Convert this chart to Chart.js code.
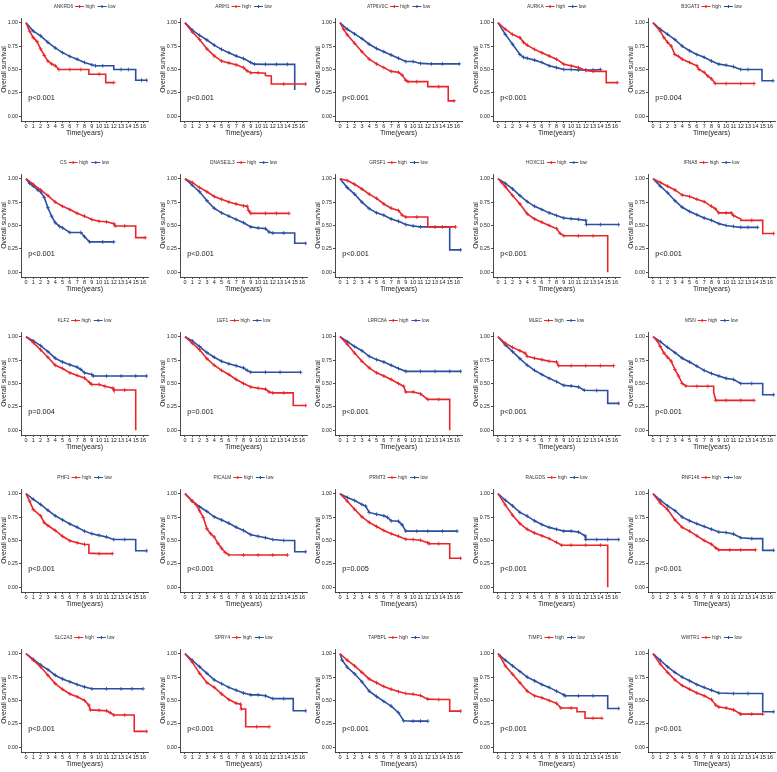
<!DOCTYPE html>
<html>
<head>
<meta charset="utf-8">
<script src="https://cdn.jsdelivr.net/npm/chart.js@4.4.1/dist/chart.umd.min.js"></script>
<style>
  body { margin: 0; background: #fff; }
  #grid { position: relative; width: 777px; height: 772px; overflow: hidden; background: #fff; }
  #grid canvas { position: absolute; }
</style>
</head>
<body>
<div id="grid"></div>
<script>
// --- data ---
const genes = ['ANKRD6', 'ARIH1', 'ATP6V0C', 'AURKA', 'B3GAT3',
    'CS', 'DNASE1L3', 'GRSF1', 'HOXC11', 'IFNA8',
    'KLF2', 'LEF1', 'LRRC8A', 'MLEC', 'MSN',
    'PHF1', 'PICALM', 'PRMT3', 'RALGDS', 'RNF146',
    'SLC2A3', 'SPRY4', 'TAPBPL', 'TIMP1', 'WWTR1'];

const pLabels = ['p<0.001', 'p<0.001', 'p<0.001', 'p<0.001', 'p=0.004',
    'p<0.001', 'p<0.001', 'p<0.001', 'p<0.001', 'p<0.001',
    'p=0.004', 'p=0.001', 'p<0.001', 'p<0.001', 'p<0.001',
    'p<0.001', 'p<0.001', 'p=0.005', 'p<0.001', 'p<0.001',
    'p<0.001', 'p<0.001', 'p<0.001', 'p<0.001', 'p<0.001'];

const groupNames = ['high', 'low'];
const timeTicks = [0, 1, 2, 3, 4, 5, 6, 7, 8, 9, 10, 11, 12, 13, 14, 15, 16];
const survTicks = [0, 0.25, 0.5, 0.75, 1];

// [time, survival] for the "high" group of each gene
const highSurv = [
    [[0,1],[0.5,0.91],[1,0.84],[1.5,0.8],[2,0.72],[2.5,0.65],[3,0.59],[3.5,0.56],[4,0.54],[4.5,0.5],[6,0.5],[7.5,0.5],[8.6,0.5],[8.6,0.45],[10,0.45],[10.9,0.45],[10.9,0.36],[12,0.36]],
    [[0,1],[1,0.9],[2,0.82],[3,0.72],[4,0.645],[5,0.59],[6,0.57],[7,0.55],[8,0.52],[8.5,0.485],[9,0.465],[10,0.465],[11,0.46],[11,0.435],[11.8,0.43],[11.8,0.345],[13.5,0.345],[16.5,0.345]],
    [[0,1],[0.5,0.93],[1,0.87],[2,0.78],[3,0.69],[4,0.61],[5,0.56],[6,0.52],[7,0.48],[8,0.47],[8.5,0.44],[9,0.385],[9.3,0.37],[10.5,0.37],[12,0.37],[12,0.317],[13.5,0.317],[14.8,0.317],[14.8,0.165],[15.6,0.165]],
    [[0,1],[1,0.93],[2,0.875],[3,0.84],[3.5,0.79],[4,0.76],[5,0.715],[6,0.68],[7,0.645],[8,0.61],[9,0.557],[10,0.54],[11,0.52],[12,0.49],[13,0.48],[14.8,0.48],[14.8,0.36],[16.3,0.36]],
    [[0,1],[1,0.91],[1.5,0.84],[2,0.79],[2.5,0.75],[3,0.66],[3.5,0.64],[4,0.61],[5,0.575],[6,0.54],[6.3,0.5],[7,0.47],[7.5,0.43],[8,0.4],[8.5,0.35],[10,0.35],[12,0.35],[13.8,0.35]],

    [[0,1],[1,0.94],[2,0.88],[3,0.82],[4,0.75],[5,0.705],[6,0.67],[7,0.63],[8,0.6],[9,0.565],[10,0.545],[11,0.54],[12,0.52],[12.2,0.495],[13.5,0.495],[15,0.495],[15,0.37],[16.3,0.37]],
    [[0,1],[1,0.96],[2,0.905],[3,0.86],[4,0.81],[5,0.78],[6,0.75],[7,0.73],[8,0.71],[8.5,0.705],[8.7,0.66],[9,0.63],[11,0.63],[12.5,0.63],[14.2,0.63]],
    [[0,1],[1,0.98],[2,0.94],[3,0.89],[4,0.835],[5,0.79],[6,0.73],[7,0.685],[8,0.66],[8.5,0.61],[9,0.59],[10.5,0.59],[12,0.59],[12,0.485],[14,0.485],[15.8,0.485]],
    [[0,1],[0.5,0.96],[1,0.915],[2,0.82],[3,0.73],[4,0.625],[5,0.57],[6,0.535],[7,0.5],[8,0.467],[8.5,0.415],[9,0.39],[11,0.39],[13,0.39],[15,0.39],[15,0]],
    [[0,1],[1,0.96],[2,0.92],[3,0.88],[4,0.825],[5,0.81],[6,0.78],[7,0.755],[8,0.705],[8.5,0.68],[9,0.635],[10,0.635],[10.7,0.635],[11,0.607],[12,0.57],[12,0.555],[13.5,0.555],[15,0.555],[15,0.415],[16.5,0.415]],

    [[0,1],[1,0.937],[2,0.86],[3,0.78],[4,0.695],[5,0.66],[6,0.614],[7,0.586],[8,0.56],[8.7,0.51],[9,0.49],[10,0.49],[10.8,0.47],[11.9,0.45],[12,0.43],[13.5,0.43],[15,0.43],[15,0]],
    [[0,1],[1,0.93],[2,0.86],[3,0.765],[4,0.695],[5,0.64],[6,0.596],[7,0.543],[8,0.5],[9,0.463],[10,0.45],[11,0.44],[11.5,0.41],[12,0.4],[13.5,0.4],[14.8,0.4],[14.8,0.265],[16.5,0.265]],
    [[0,1],[1,0.92],[2,0.825],[3,0.737],[4,0.667],[5,0.614],[6,0.58],[7,0.543],[8,0.5],[8.7,0.47],[9,0.41],[10,0.41],[11,0.39],[12,0.33],[13.5,0.33],[15,0.33],[15,0]],
    [[0,1],[1,0.93],[2,0.886],[3,0.85],[3.7,0.825],[4,0.79],[5,0.77],[6,0.755],[7,0.737],[8,0.73],[8.3,0.69],[10,0.69],[12,0.69],[14,0.69],[15.8,0.69]],
    [[0,1],[0.5,0.965],[1,0.895],[1.5,0.825],[2,0.78],[2.5,0.737],[3,0.65],[3.5,0.58],[4,0.5],[4.5,0.474],[6,0.47],[7.5,0.47],[8.3,0.47],[8.3,0.403],[8.6,0.32],[10,0.32],[12,0.32],[13.8,0.32]],

    [[0,1],[0.5,0.92],[1,0.83],[2,0.764],[2.5,0.69],[3,0.66],[4,0.607],[5,0.545],[6,0.497],[7,0.476],[8,0.458],[8.6,0.458],[8.6,0.365],[10,0.36],[11.8,0.36]],
    [[0,1],[1,0.92],[1.5,0.885],[2,0.816],[2.5,0.747],[3,0.625],[3.5,0.573],[4,0.538],[4.5,0.47],[5,0.417],[5.5,0.372],[6,0.347],[8,0.345],[10,0.345],[12,0.345],[14,0.345]],
    [[0,1],[1,0.92],[2,0.833],[3,0.753],[4,0.694],[5,0.65],[6,0.607],[7,0.573],[8,0.545],[9,0.514],[10,0.51],[11,0.503],[12,0.476],[12.2,0.466],[13.5,0.466],[15,0.466],[15,0.31],[16.5,0.31]],
    [[0,1],[1,0.88],[2,0.77],[3,0.68],[4,0.62],[5,0.58],[6,0.55],[7,0.52],[8,0.48],[8.7,0.45],[10,0.45],[12,0.45],[14,0.45],[15,0.45],[15,0]],
    [[0,1],[1,0.9],[2,0.83],[3,0.72],[4,0.64],[5,0.6],[6,0.55],[7,0.5],[8,0.46],[8.6,0.42],[9,0.4],[10.5,0.4],[12,0.4],[14,0.4]],

    [[0,1],[1,0.93],[2,0.86],[3,0.77],[4,0.68],[5,0.62],[6,0.57],[7,0.54],[8,0.5],[8.6,0.45],[8.8,0.4],[10,0.395],[11,0.39],[11.5,0.37],[12,0.345],[13.5,0.345],[14.8,0.345],[14.8,0.17],[16.5,0.17]],
    [[0,1],[1,0.91],[2,0.79],[3,0.69],[4,0.64],[5,0.57],[6,0.51],[7,0.47],[7.6,0.46],[7.7,0.41],[8.3,0.41],[8.3,0.22],[9.8,0.22],[11.5,0.22]],
    [[0,1],[1,0.93],[2,0.87],[3,0.8],[4,0.73],[5,0.69],[6,0.65],[7,0.62],[8,0.595],[9,0.575],[10,0.567],[11,0.553],[12,0.515],[13.5,0.51],[15,0.51],[15,0.387],[16.5,0.387]],
    [[0,1],[0.3,0.97],[1,0.87],[2,0.78],[3,0.69],[4,0.6],[5,0.55],[6,0.53],[7,0.5],[8,0.47],[8.6,0.42],[10,0.42],[10.8,0.42],[10.8,0.38],[11.9,0.38],[11.9,0.31],[13,0.31],[14.2,0.31]],
    [[0,1],[1,0.89],[2,0.8],[3,0.72],[4,0.66],[5,0.62],[6,0.58],[7,0.55],[8,0.51],[8.6,0.45],[9,0.43],[10,0.42],[11,0.4],[11.9,0.36],[12,0.355],[13.5,0.355],[15,0.355]]
];

// [time, survival] for the "low" group of each gene
const lowSurv = [
    [[0,1],[1,0.91],[2,0.86],[3,0.79],[4,0.73],[5,0.68],[6,0.64],[7,0.61],[8,0.575],[9,0.55],[9.5,0.54],[10.5,0.54],[12,0.54],[12,0.5],[13,0.5],[14,0.5],[15,0.5],[15,0.385],[15.8,0.385],[16.5,0.385]],
    [[0,1],[1,0.92],[2,0.865],[3,0.815],[4,0.76],[5,0.715],[6,0.68],[7,0.645],[8,0.617],[9,0.575],[9.5,0.557],[11,0.555],[12.5,0.555],[14,0.555],[15,0.555],[15,0.28]],
    [[0,1],[1,0.93],[2,0.88],[3,0.83],[4,0.77],[5,0.725],[6,0.69],[7,0.655],[8,0.62],[9,0.585],[10,0.585],[11,0.565],[12.5,0.56],[14,0.56],[16.3,0.56]],
    [[0,1],[1,0.875],[2,0.77],[3,0.66],[3.5,0.63],[4,0.62],[5,0.6],[6,0.575],[7,0.54],[8,0.52],[9,0.5],[10,0.5],[11,0.495],[12,0.495],[13,0.495],[14,0.5]],
    [[0,1],[1,0.93],[2,0.875],[3,0.82],[4,0.75],[5,0.7],[6,0.66],[7,0.63],[8,0.59],[9,0.557],[10,0.546],[11,0.53],[12,0.5],[13,0.5],[14.9,0.5],[14.9,0.38],[16.4,0.38]],

    [[0,1],[0.5,0.95],[1,0.92],[1.6,0.88],[2,0.86],[2.5,0.8],[3,0.69],[3.5,0.6],[4,0.53],[4.6,0.49],[5,0.475],[6,0.425],[7.5,0.425],[8,0.38],[8.7,0.325],[10.5,0.325],[12,0.325]],
    [[0,1],[1,0.93],[2,0.86],[3,0.765],[4,0.684],[5,0.635],[6,0.6],[7,0.565],[8,0.53],[9,0.485],[10,0.474],[11,0.467],[11.5,0.43],[12,0.42],[13.5,0.42],[15,0.42],[15,0.31],[16.5,0.31]],
    [[0,1],[1,0.905],[2,0.835],[3,0.75],[4,0.68],[5,0.635],[6,0.61],[7,0.57],[8,0.545],[9,0.51],[10,0.495],[11,0.485],[13,0.485],[15,0.485],[15,0.24],[16.5,0.24]],
    [[0,1],[1,0.95],[2,0.89],[3,0.82],[4,0.755],[5,0.705],[6,0.67],[7,0.635],[8,0.607],[9,0.58],[10,0.572],[11,0.565],[12,0.555],[12.1,0.51],[14,0.51],[16.5,0.51]],
    [[0,1],[1,0.92],[2,0.85],[3,0.765],[4,0.695],[5,0.65],[6,0.615],[7,0.58],[8,0.555],[9,0.52],[10,0.5],[11,0.49],[12,0.48],[13,0.48],[14.3,0.48]],

    [[0,1],[1,0.955],[2,0.905],[3,0.84],[4,0.77],[5,0.73],[6,0.7],[7,0.675],[7.5,0.65],[8,0.614],[9,0.596],[9.2,0.58],[11,0.58],[13,0.58],[15,0.58],[16.5,0.58]],
    [[0,1],[1,0.955],[2,0.895],[3,0.83],[4,0.78],[5,0.737],[6,0.71],[7,0.69],[8,0.667],[8.5,0.64],[9,0.62],[11,0.62],[13,0.62],[15.8,0.62]],
    [[0,1],[1,0.947],[2,0.895],[3,0.85],[4,0.79],[5,0.755],[6,0.73],[7,0.695],[8,0.66],[9,0.63],[11,0.63],[13,0.63],[15,0.63],[16.5,0.63]],
    [[0,1],[1,0.912],[2,0.84],[3,0.765],[4,0.695],[5,0.64],[6,0.596],[7,0.555],[8,0.52],[9,0.48],[10,0.474],[11,0.463],[11.8,0.428],[13.5,0.425],[15,0.425],[15,0.288],[16.5,0.288]],
    [[0,1],[1,0.947],[2,0.886],[3,0.83],[4,0.77],[5,0.73],[6,0.685],[7,0.64],[8,0.607],[9,0.58],[10,0.555],[11,0.543],[12,0.5],[13.5,0.5],[15,0.5],[15,0.38],[16.5,0.38]],

    [[0,1],[1,0.94],[2,0.885],[3,0.823],[4,0.764],[5,0.72],[6,0.677],[7,0.642],[8,0.6],[9,0.573],[10,0.555],[11,0.538],[12,0.51],[13.5,0.51],[15,0.51],[15,0.39],[16.5,0.39]],
    [[0,1],[1,0.92],[2,0.86],[3,0.81],[4,0.753],[5,0.72],[6,0.684],[7,0.642],[8,0.607],[9,0.562],[10,0.545],[11,0.53],[12,0.51],[13.5,0.5],[15,0.5],[15,0.38],[16.5,0.38]],
    [[0,1],[1,0.96],[2,0.927],[3,0.885],[3.5,0.868],[4,0.8],[5,0.78],[6,0.764],[6.5,0.747],[7,0.71],[8,0.705],[8.5,0.667],[9,0.6],[10.5,0.6],[12,0.6],[14,0.6],[16,0.6]],
    [[0,1],[1,0.93],[2,0.87],[3,0.8],[4,0.76],[5,0.71],[6,0.67],[7,0.64],[8,0.62],[9,0.6],[10,0.6],[11,0.59],[11.9,0.55],[12,0.51],[13.5,0.51],[15,0.51],[16.5,0.51]],
    [[0,1],[1,0.93],[2,0.87],[3,0.82],[4,0.75],[5,0.71],[6,0.68],[7,0.65],[8,0.62],[9,0.59],[10,0.585],[11,0.57],[12,0.53],[13.5,0.52],[15,0.52],[15,0.395],[16.5,0.395]],

    [[0,1],[1,0.94],[2,0.88],[3,0.83],[4,0.77],[5,0.73],[6,0.7],[7,0.67],[8,0.645],[9,0.625],[11,0.625],[13,0.625],[14.5,0.625],[16,0.625]],
    [[0,1],[1,0.93],[2,0.86],[3,0.79],[4,0.72],[5,0.68],[6,0.64],[7,0.61],[8,0.58],[9,0.56],[10,0.56],[11,0.55],[12,0.52],[13.5,0.52],[14.8,0.52],[14.8,0.39],[16.5,0.39]],
    [[0,1],[0.3,0.93],[1,0.855],[2,0.785],[3,0.7],[4,0.6],[5,0.543],[6,0.49],[7,0.44],[8,0.37],[8.7,0.284],[10,0.28],[11,0.28],[12,0.28]],
    [[0,1],[1,0.93],[2,0.87],[3,0.81],[4,0.75],[5,0.71],[6,0.67],[7,0.64],[8,0.6],[9,0.56],[9.2,0.55],[11,0.55],[13,0.55],[15,0.55],[15,0.415],[16.5,0.415]],
    [[0,1],[1,0.93],[2,0.86],[3,0.8],[4,0.75],[5,0.71],[6,0.67],[7,0.64],[8,0.61],[9,0.58],[11,0.575],[13,0.575],[15,0.575],[15,0.38],[16.5,0.38]]
];

// --- look ---
const RED = '#E8262A';
const BLUE = '#2B4FA2';
const INK = '#1a1a1a';
const FONT = '"Liberation Sans", Arial, sans-serif';
const colLeft = [0, 159, 314, 472, 627];
const rowTop = [0, 156, 314, 471, 631];
const CW = 150, CH = 142;

// censor marks everywhere except the start and the two ends of a vertical drop
function censorRadius(c) {
    const d = c.dataset.data, i = c.dataIndex, p = d[i];
    if (!p || i === 0) return 0;
    if ((d[i - 1] && d[i - 1].x === p.x) || (d[i + 1] && d[i + 1].x === p.x)) return 0;
    return 1.9;
}

function drawKey(ctx, x, y, color) {
    ctx.strokeStyle = color;
    ctx.lineWidth = 1.1;
    ctx.beginPath();
    ctx.moveTo(x, y); ctx.lineTo(x + 9, y);
    ctx.moveTo(x + 4.5, y - 1.6); ctx.lineTo(x + 4.5, y + 1.6);
    ctx.stroke();
}

// legend row + p-value text
const kmDecor = {
    id: 'kmDecor',
    afterDraw(chart, args, opts) {
        const { ctx, chartArea, scales } = chart;
        ctx.save();
        ctx.fillStyle = INK;
        ctx.textBaseline = 'middle';
        ctx.textAlign = 'left';
        ctx.font = `7.3px ${FONT}`;
        ctx.fillText(opts.pval, scales.x.getPixelForValue(0.3), scales.y.getPixelForValue(0.2));

        ctx.font = `4.8px ${FONT}`;
        const wGene = ctx.measureText(opts.gene).width;
        const wHigh = ctx.measureText(groupNames[0]).width;
        const wLow = ctx.measureText(groupNames[1]).width;
        const total = wGene + 2 + 9 + 1.5 + wHigh + 3 + 9 + 1.5 + wLow;
        let x = (chartArea.left + chartArea.right) / 2 - total / 2;
        const y = 6.5;
        ctx.fillStyle = '#333';
        ctx.fillText(opts.gene, x, y); x += wGene + 2;
        drawKey(ctx, x, y, RED); x += 10.5;
        ctx.fillText(groupNames[0], x, y); x += wHigh + 3;
        drawKey(ctx, x, y, BLUE); x += 10.5;
        ctx.fillText(groupNames[1], x, y);
        ctx.restore();
    }
};

function makeSet(label, pts, color) {
    return {
        label,
        data: pts.map(([x, y]) => ({ x, y })),
        borderColor: color,
        backgroundColor: color,
        borderWidth: 1.6,
        pointStyle: 'cross',
        pointRadius: censorRadius,
        pointBorderWidth: 0.9,
        pointBorderColor: color,
        tension: 0,
        fill: false
    };
}

function axisOpts(extra) {
    return Object.assign({
        type: 'linear',
        grid: { display: true, drawOnChartArea: false, drawTicks: true, tickLength: 2, tickColor: INK, lineWidth: 0.8 },
        border: { display: true, color: INK, width: 0.8 },
    }, extra);
}

function buildPanel(i) {
    const cv = document.createElement('canvas');
    cv.width = CW; cv.height = CH;
    cv.style.left = colLeft[i % 5] + 'px';
    cv.style.top = rowTop[Math.floor(i / 5)] + 'px';
    document.getElementById('grid').appendChild(cv);

    new Chart(cv, {
        type: 'line',
        data: { datasets: [makeSet(groupNames[0], highSurv[i], RED), makeSet(groupNames[1], lowSurv[i], BLUE)] },
        plugins: [kmDecor],
        options: {
            responsive: false,
            animation: false,
            devicePixelRatio: 1,
            layout: { autoPadding: false, padding: { top: 18, right: 2, left: 0, bottom: 0 } },
            plugins: {
                legend: { display: false },
                tooltip: { enabled: false },
                kmDecor: { gene: genes[i], pval: pLabels[i] }
            },
            scales: {
                x: axisOpts({
                    min: -0.68, max: 16.68,
                    afterBuildTicks: s => { s.ticks = timeTicks.map(v => ({ value: v })); },
                    afterFit: s => { s.height = 21; },
                    ticks: { autoSkip: false, maxRotation: 0, padding: 0.5, color: INK, font: { size: 5.5, family: FONT } },
                    title: { display: true, text: 'Time(years)', color: INK, font: { size: 7, family: FONT }, padding: { top: 0, bottom: 4.6 } }
                }),
                y: axisOpts({
                    min: -0.05, max: 1.05,
                    afterBuildTicks: s => { s.ticks = survTicks.map(v => ({ value: v })); },
                    afterFit: s => { s.width = 21; },
                    ticks: { padding: 1.2, color: INK, font: { size: 5.2, family: FONT }, callback: v => v.toFixed(2) },
                    title: { display: true, text: 'Overall survival', color: INK, font: { size: 6.8, family: FONT }, padding: { top: 0, bottom: 0 } }
                })
            }
        }
    });
}

genes.forEach((g, i) => buildPanel(i));
</script>
</body>
</html>
